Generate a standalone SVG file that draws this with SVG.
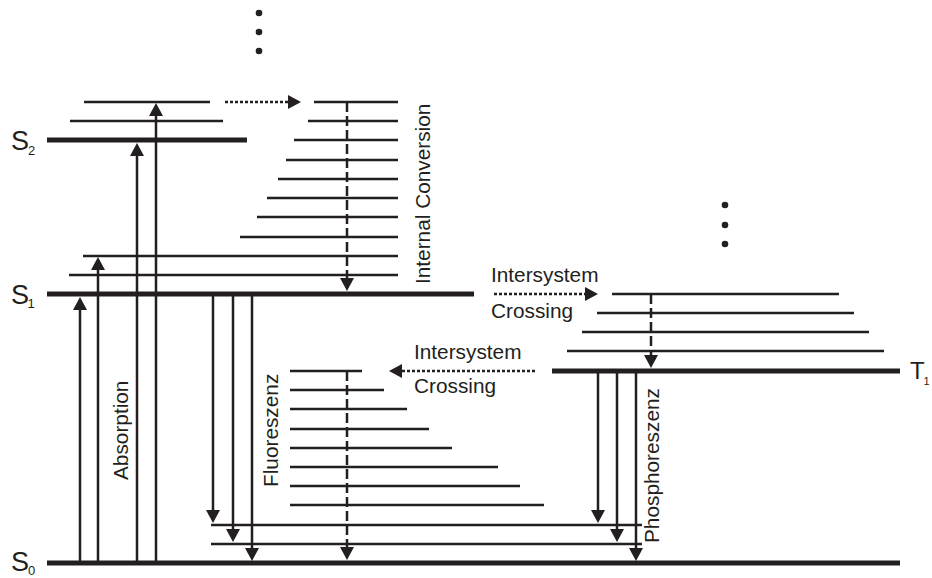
<svg xmlns="http://www.w3.org/2000/svg" width="932" height="578" viewBox="0 0 932 578">
<style>
.lv{stroke:#231f20;stroke-width:2.5;fill:none}
.thick{stroke:#231f20;stroke-width:5;fill:none}
.arr{stroke:#231f20;stroke-width:2.5;fill:none;marker-end:url(#ah)}
.dash{stroke:#231f20;stroke-width:2.5;fill:none;stroke-dasharray:10 4;marker-end:url(#ah)}
.dot{stroke:#231f20;stroke-width:2.5;fill:none;stroke-dasharray:3 2;marker-end:url(#ah)}
.t{font-family:"Liberation Sans",Arial,sans-serif;font-size:20.8px;fill:#231f20}
.s{font-family:"Liberation Sans",Arial,sans-serif;font-size:27px;fill:#231f20}
.sub{font-family:"Liberation Sans",Arial,sans-serif;font-size:13px;fill:#231f20}
.pt{fill:#231f20}
</style>
<defs>
<marker id="ah" markerUnits="userSpaceOnUse" markerWidth="14" markerHeight="14" refX="9" refY="7" orient="auto">
<path d="M0,0 L13,7 L0,14 Z" fill="#231f20"/>
</marker>
</defs>
<rect width="932" height="578" fill="#ffffff"/>

<g id="dots-top">
<circle class="pt" cx="259" cy="13" r="3.3"/>
<circle class="pt" cx="259" cy="32" r="3.3"/>
<circle class="pt" cx="259" cy="51" r="3.3"/>
</g>
<g id="dots-right">
<circle class="pt" cx="725" cy="205" r="3.3"/>
<circle class="pt" cx="725" cy="225" r="3.3"/>
<circle class="pt" cx="725" cy="244" r="3.3"/>
</g>

<g id="S2">
<line class="thick" x1="47" y1="140" x2="247" y2="140"/>
<line class="lv" x1="70" y1="121" x2="223" y2="121"/>
<line class="lv" x1="84" y1="102" x2="210" y2="102"/>
<text class="s" x="11" y="150">S</text><text class="sub" x="28" y="155">2</text>
</g>

<g id="S1-vib-high">
<line class="lv" x1="314" y1="102" x2="398" y2="102"/>
<line class="lv" x1="308" y1="121" x2="398" y2="121"/>
<line class="lv" x1="294" y1="140" x2="398" y2="140"/>
<line class="lv" x1="286" y1="160" x2="398" y2="160"/>
<line class="lv" x1="278" y1="179" x2="398" y2="179"/>
<line class="lv" x1="267" y1="198" x2="398" y2="198"/>
<line class="lv" x1="257" y1="217" x2="398" y2="217"/>
<line class="lv" x1="240" y1="237" x2="398" y2="237"/>
</g>

<g id="S1">
<line class="thick" x1="47" y1="294" x2="474" y2="294"/>
<line class="lv" x1="69" y1="275" x2="398" y2="275"/>
<line class="lv" x1="83" y1="256" x2="398" y2="256"/>
<text class="s" x="11" y="304">S</text><text class="sub" x="27.5" y="308">1</text>
</g>

<g id="T1">
<line class="thick" x1="552" y1="371" x2="900" y2="371"/>
<line class="lv" x1="567" y1="351" x2="884" y2="351"/>
<line class="lv" x1="582" y1="332" x2="869" y2="332"/>
<line class="lv" x1="597" y1="313" x2="854" y2="313"/>
<line class="lv" x1="612" y1="294" x2="839" y2="294"/>
<text class="s" x="910" y="379" style="font-size:24px">T</text><text class="sub" x="923.5" y="385" style="font-size:11px">1</text>
</g>

<g id="S0">
<line class="thick" x1="47" y1="563" x2="900" y2="563"/>
<line class="lv" x1="211" y1="544" x2="642" y2="544"/>
<line class="lv" x1="211" y1="525" x2="642" y2="525"/>
<line class="lv" x1="290" y1="505" x2="544" y2="505"/>
<line class="lv" x1="290" y1="486" x2="520" y2="486"/>
<line class="lv" x1="290" y1="467" x2="498" y2="467"/>
<line class="lv" x1="290" y1="448" x2="452" y2="448"/>
<line class="lv" x1="290" y1="429" x2="429" y2="429"/>
<line class="lv" x1="290" y1="409" x2="407" y2="409"/>
<line class="lv" x1="290" y1="390" x2="384" y2="390"/>
<line class="lv" x1="290" y1="371" x2="362" y2="371"/>
<text class="s" x="11" y="571">S</text><text class="sub" x="28" y="575">0</text>
</g>

<g id="connectors">
<line class="arr" x1="80" y1="563" x2="80" y2="301"/>
<line class="arr" x1="98" y1="563" x2="98" y2="261"/>
<line class="arr" x1="137" y1="563" x2="137" y2="147"/>
<line class="arr" x1="156" y1="563" x2="156" y2="107"/>
<line class="arr" x1="213" y1="294" x2="213" y2="519"/>
<line class="arr" x1="233" y1="294" x2="233" y2="538"/>
<line class="arr" x1="252" y1="294" x2="252" y2="557"/>
<line class="arr" x1="598" y1="371" x2="598" y2="519"/>
<line class="arr" x1="617" y1="371" x2="617" y2="538"/>
<line class="arr" x1="636" y1="371" x2="636" y2="557"/>
<line class="dash" x1="347" y1="102" x2="347" y2="287"/>
<line class="dash" x1="347" y1="371" x2="347" y2="556"/>
<line class="dash" x1="651" y1="294" x2="651" y2="364"/>
<line class="dot" x1="225" y1="102" x2="297" y2="102"/>
<line class="dot" x1="494" y1="294" x2="594" y2="294"/>
<line class="dot" x1="535" y1="371" x2="393" y2="371"/>
</g>

<g id="labels">
<text class="t" transform="translate(430,284) rotate(-90)">Internal Conversion</text>
<text class="t" transform="translate(128,480) rotate(-90)">Absorption</text>
<text class="t" transform="translate(278,487) rotate(-90)">Fluoreszenz</text>
<text class="t" transform="translate(659,543) rotate(-90)">Phosphoreszenz</text>
<text class="t" x="491" y="282">Intersystem</text>
<text class="t" x="491" y="318">Crossing</text>
<text class="t" x="414" y="359">Intersystem</text>
<text class="t" x="414" y="393">Crossing</text>
</g>
</svg>
